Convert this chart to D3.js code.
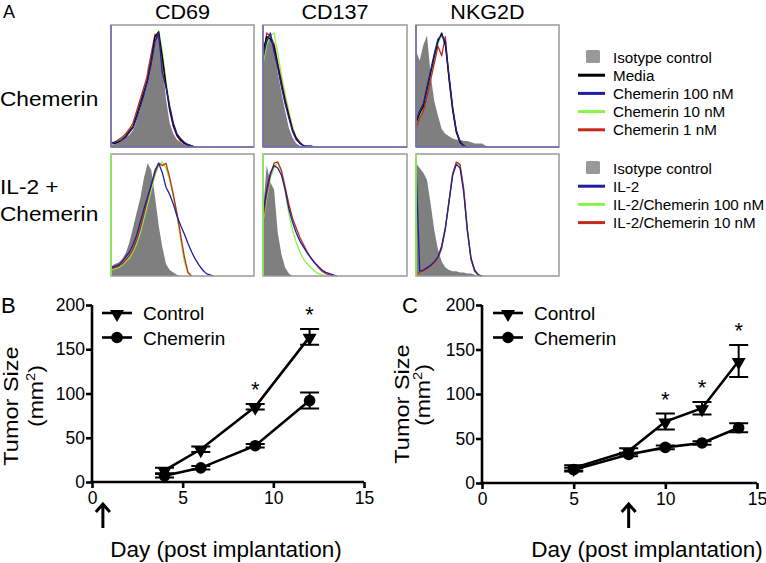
<!DOCTYPE html>
<html><head><meta charset="utf-8">
<script src="https://cdn.jsdelivr.net/npm/d3@7"></script>
<style>
body{margin:0;background:#fff}
svg{display:block}
text{font-family:"Liberation Sans",Arial,Helvetica,sans-serif;fill:#000}
</style>
</head><body>
<svg id="c" width="766" height="563"></svg>
<script>
// ---------- Panel A : flow cytometry histograms (bin counts, % of max) ----------
const histMarkers = ["CD69", "CD137", "NKG2D"];
const histRowLabels = [["Chemerin"], ["IL-2 +", "Chemerin"]];
const legendRow1 = ["Isotype control", "Media", "Chemerin 100 nM", "Chemerin 10 nM", "Chemerin 1 nM"];
const legendRow2 = ["Isotype control", "IL-2", "IL-2/Chemerin 100 nM", "IL-2/Chemerin 10 nM"];

// Row 1 (Chemerin)
const cd69Iso     = [2,3,4,6,8,10,14,22,32,48,66,80,90,93,72,40,20,11,6,4,2,1,0];
const cd69Media   = [4,3,4,6,9,13,17,26,36,46,56,72,92,96,75,52,32,18,10,6,3,2,1,0];
const cd69C100    = [3,4,5,6,8,12,16,24,34,44,56,70,88,95,62,50,34,20,11,7,4,2,1,0];
const cd69C10     = [2,3,4,7,10,14,18,27,37,47,58,73,90,97,80,55,34,19,10,5,3,1,0];
const cd69C1      = [3,4,6,8,11,15,20,30,40,50,60,78,94,90,74,50,30,17,9,5,3,1,0];

const cd137Iso    = [78,90,92,85,62,45,30,16,8,3,1,0];
const cd137Media  = [80,92,90,84,68,52,38,26,14,7,3,1,0];
const cd137C100   = [75,88,95,80,66,50,36,24,13,6,3,1,1,1,0];
const cd137C10    = [70,85,93,95,78,60,44,30,17,8,3,1,0];
const cd137C1     = [72,95,92,86,70,55,40,27,15,8,4,1,0];

const nkg2dIso    = [80,72,85,93,60,38,26,15,11,9,7,6,6,5,5,4,3,3,3,1,0];
const nkg2dMedia  = [20,28,34,48,62,76,88,95,85,58,32,13,4,1,0];
const nkg2dC100   = [22,30,36,50,64,78,90,93,88,60,33,14,5,1,0];
const nkg2dC10    = [18,26,34,46,60,74,86,94,86,58,31,12,4,1,0];
const nkg2dC1     = [16,24,30,42,56,70,84,76,92,56,30,12,4,1,0];

// Row 2 (IL-2 + Chemerin)
const cd69IL2Iso   = [8,10,11,14,19,28,40,53,65,82,94,88,66,42,24,10,5,3,1,0];
const cd69IL2      = [7,8,9,12,16,20,26,34,45,56,66,76,88,94,86,74,68,60,50,42,35,27,20,14,9,5,2,1,0];
const cd69IL2C100  = [5,6,7,9,12,15,20,27,36,48,60,72,84,92,95,90,80,66,50,30,12,2,0];
const cd69IL2C10   = [6,7,8,10,13,17,22,30,40,52,64,76,86,94,92,94,82,68,52,34,16,3,0];

const cd137IL2Iso  = [55,92,78,72,36,18,7,2,0];
const cd137IL2     = [52,72,86,92,90,84,72,56,45,36,29,24,19,15,11,8,5,3,2,1,0];
const cd137IL2C100 = [45,65,82,90,95,86,70,52,38,28,20,14,10,7,4,2,1,0];
const cd137IL2C10  = [48,68,84,94,95,88,74,60,48,40,32,26,20,15,11,7,4,2,1,0];

const nkg2dIL2Iso  = [94,90,86,80,60,38,22,12,7,5,4,4,3,3,2,2,1,0];
const nkg2dIL2     = [94,4,5,7,9,12,16,25,40,62,84,93,90,70,38,15,5,1,0];
const nkg2dIL2C100 = [2,3,4,6,8,11,15,24,40,63,85,94,92,72,38,14,4,1,0];
const nkg2dIL2C10  = [2,3,4,6,8,11,15,23,39,62,85,95,93,73,39,14,4,1,0];

// ---------- Panels B & C : tumour growth ----------
const seriesNames = ["Control", "Chemerin"];
const daysB = [4, 6, 9, 12];
const bControl = [13, 37, 85, 164];
const bControlErr = [3, 3, 3, 9];
const bChemerin = [7, 16, 41, 92];
const bChemerinErr = [2, 2, 2, 9];
const bSignificant = [9, 12];
const bTreatmentDay = 0.6;

const daysC = [5, 8, 10, 12, 14];
const cControl = [17, 36, 69, 84, 137];
const cControlErr = [3, 3, 9, 7, 18];
const cChemerin = [15, 32, 40, 45, 62];
const cChemerinErr = [2, 2, 2, 2, 5];
const cSignificant = [10, 12, 14];
const cTreatmentDay = 8;

const xTicks = [0, 5, 10, 15];
const yTicks = [0, 50, 100, 150, 200];

// ---------- drawing ----------
const svg = d3.select("#c");
const BLUE = "#1f1f9e", GREEN = "#86f548", RED = "#c42a1c", BLACK = "#000";

function txt(parent, x, y, s, size, anchor, sx, rot) {
  return parent.append("text")
    .attr("transform", `translate(${x},${y})` + (rot ? ` rotate(${rot})` : "") + ` scale(${sx||1},1)`)
    .attr("font-size", size).attr("text-anchor", anchor || "start").text(s);
}

// Panel A
txt(svg, 3, 18, "A", 18);
const colX = [[111, 254], [263, 407], [416, 559]];
const rowY = [[25, 147], [154, 276]];
histMarkers.forEach((m, i) => txt(svg, (colX[i][0] + colX[i][1]) / 2, 19, m, 20, "middle", 1.08));
txt(svg, 0, 106, histRowLabels[0][0], 21, "start", 1.08);
txt(svg, 0, 194, histRowLabels[1][0], 21, "start", 1.08);
txt(svg, 0, 221, histRowLabels[1][1], 21, "start", 1.08);

const histPanels = [
  [ {iso: cd69Iso, lines: [[cd69C10, GREEN], [cd69C1, RED], [cd69Media, BLACK], [cd69C100, BLUE]]},
    {iso: cd137Iso, lines: [[cd137C10, GREEN], [cd137C1, RED], [cd137Media, BLACK], [cd137C100, BLUE]]},
    {iso: nkg2dIso, lines: [[nkg2dC10, GREEN], [nkg2dC1, RED], [nkg2dMedia, BLACK], [nkg2dC100, BLUE]]} ],
  [ {iso: cd69IL2Iso, lines: [[cd69IL2C100, GREEN], [cd69IL2C10, RED], [cd69IL2, BLUE]]},
    {iso: cd137IL2Iso, lines: [[cd137IL2C100, GREEN], [cd137IL2C10, RED], [cd137IL2, BLUE]]},
    {iso: nkg2dIL2Iso, lines: [[nkg2dIL2C100, GREEN], [nkg2dIL2C10, RED], [nkg2dIL2, BLUE]]} ]
];

histPanels.forEach((row, r) => row.forEach((p, c) => {
  const [x0, x1] = colX[c], [y0, y1] = rowY[r];
  const hx = d3.scaleLinear().domain([0, 39]).range([x0, x1]);
  const hy = d3.scaleLinear().domain([0, 100]).range([y1, y0 + 2]);
  const g = svg.append("g");
  g.append("path").datum(p.iso)
    .attr("d", d3.area().x((d, i) => hx(i)).y0(y1).y1(d => hy(d)))
    .attr("fill", "#7f7f7f");
  p.lines.forEach(([arr, col]) => {
    g.append("path").datum(arr)
      .attr("d", d3.line().x((d, i) => hx(i)).y(d => hy(d)))
      .attr("fill", "none").attr("stroke", col).attr("stroke-width", 1.3).attr("stroke-linejoin", "round");
  });
  g.append("rect").attr("x", x0).attr("y", y0).attr("width", x1 - x0).attr("height", y1 - y0)
    .attr("fill", "none").attr("stroke", "#999").attr("stroke-width", 1.5);
  g.append("line").attr("x1", x0).attr("x2", x0).attr("y1", y0).attr("y2", y1)
    .attr("stroke", r === 0 ? "#6a6ab0" : GREEN).attr("stroke-width", 1.5);
  if (r === 0) g.append("line").attr("x1", x0).attr("x2", x1).attr("y1", y1).attr("y2", y1)
    .attr("stroke", "#6a6ab0").attr("stroke-width", 1.5);
}));

// Legends A
function legendA(items, colors, y0) {
  items.forEach((s, i) => {
    const y = y0 + i * 18.2;
    if (i === 0) {
      svg.append("rect").attr("x", 586).attr("y", y - 7).attr("width", 14).attr("height", 13)
        .attr("fill", "#999").attr("rx", 1.5);
    } else {
      svg.append("line").attr("x1", 578).attr("x2", 605).attr("y1", y).attr("y2", y)
        .attr("stroke", colors[i]).attr("stroke-width", 3);
    }
    txt(svg, 613, y + 5.5, s, 15.2);
  });
}
legendA(legendRow1, [null, BLACK, BLUE, GREEN, RED], 57);
legendA(legendRow2, [null, BLUE, GREEN, RED], 168);

// Panels B & C
function drawSym(g, type, cx, cy) {
  if (type === "tri") {
    g.append("path").attr("d", d3.symbol(d3.symbolTriangle, 85)())
      .attr("transform", `translate(${cx},${cy + 1}) rotate(180)`).attr("fill", "#000");
  } else {
    g.append("circle").attr("cx", cx).attr("cy", cy).attr("r", 5.8).attr("fill", "#000");
  }
}
function growth(cfg) {
  const x = d3.scaleLinear().domain([0, 15]).range([cfg.x0, cfg.x1]);
  const y = d3.scaleLinear().domain([0, 200]).range([cfg.yb, cfg.yt]);
  const g = svg.append("g");
  const ax = g.append("g").attr("transform", `translate(0,${cfg.yb})`)
    .call(d3.axisBottom(x).tickValues(xTicks).tickSizeOuter(0).tickSize(6).tickPadding(4));
  const ay = g.append("g").attr("transform", `translate(${cfg.x0},0)`)
    .call(d3.axisLeft(y).tickValues(yTicks).tickSizeOuter(0).tickSize(6).tickPadding(1));
  [ax, ay].forEach(a => {
    a.selectAll("path,line").attr("stroke", "#000").attr("stroke-width", 2.6);
    a.selectAll("text").attr("font-size", 17.5).attr("fill", "#000")
      .attr("font-family", '"Liberation Sans",Arial,sans-serif');
  });
  ay.select(".domain").attr("d", `M0,${cfg.yb + 1.3}V${cfg.yt}`);
  ax.select(".domain").attr("d", `M${cfg.x0 - 1.3},0H${cfg.x1}`);

  const line = d3.line().x(d => x(d[0])).y(d => y(d[1]));
  const sets = [
    {v: cfg.ctrl, e: cfg.ctrlErr, sym: "tri"},
    {v: cfg.chem, e: cfg.chemErr, sym: "circ"}
  ];
  sets.forEach(s => {
    const pts = cfg.days.map((d, i) => [d, s.v[i], s.e[i]]);
    g.append("path").datum(pts).attr("d", line).attr("fill", "none")
      .attr("stroke", "#000").attr("stroke-width", 2.6);
    pts.forEach(p => {
      const cx = x(p[0]);
      g.append("path").attr("d", `M${cx},${y(p[1] - p[2])}V${y(p[1] + p[2])}M${cx - 9.5},${y(p[1] + p[2])}H${cx + 9.5}M${cx - 9.5},${y(p[1] - p[2])}H${cx + 9.5}`)
        .attr("stroke", "#000").attr("stroke-width", 2);
      drawSym(g, s.sym, cx, y(p[1]));
    });
  });
  cfg.sig.forEach(d => {
    const i = cfg.days.indexOf(d);
    txt(g, x(d), y(cfg.ctrl[i] + cfg.ctrlErr[i]) - 7, "*", 22, "middle");
  });
  // legend
  seriesNames.forEach((n, i) => {
    const ly = 313 + i * 24.5;
    g.append("line").attr("x1", cfg.lx - 15).attr("x2", cfg.lx + 15).attr("y1", ly).attr("y2", ly)
      .attr("stroke", "#000").attr("stroke-width", 2.6);
    drawSym(g, i === 0 ? "tri" : "circ", cfg.lx, ly);
    txt(g, cfg.lx + 26, ly + 7, n, 19);
  });
  // treatment arrow
  const axp = x(cfg.treat);
  g.append("path").attr("d", `M${axp},528V504M${axp - 7},512L${axp},504L${axp + 7},512`)
    .attr("fill", "none").attr("stroke", "#000").attr("stroke-width", 3);
  txt(g, cfg.xlabX, 557, "Day (post implantation)", 22.5, "middle");
  txt(g, cfg.ylab1X, cfg.ylab1Y, "Tumor Size", 21, "middle", 1.12, -90);
  const t2 = txt(g, cfg.ylab2X, cfg.ylab2Y, "(mm", 21, "middle", 1.1, -90);
  t2.append("tspan").attr("font-size", 13.5).attr("dy", -8).text("2");
  t2.append("tspan").attr("dy", 8).text(")");
  txt(g, cfg.letterX, 313, cfg.letter, 22);
}

growth({x0: 92, x1: 364, yb: 482, yt: 305, days: daysB, ctrl: bControl, ctrlErr: bControlErr,
  chem: bChemerin, chemErr: bChemerinErr, sig: bSignificant, treat: bTreatmentDay, lx: 117,
  xlabX: 226, ylab1X: 18, ylab1Y: 406, ylab2X: 43, ylab2Y: 396, letter: "B", letterX: 1});
growth({x0: 482, x1: 757, yb: 483, yt: 305, days: daysC, ctrl: cControl, ctrlErr: cControlErr,
  chem: cChemerin, chemErr: cChemerinErr, sig: cSignificant, treat: cTreatmentDay, lx: 508,
  xlabX: 647, ylab1X: 409, ylab1Y: 404, ylab2X: 430, ylab2Y: 395, letter: "C", letterX: 402});
</script>
</body></html>
